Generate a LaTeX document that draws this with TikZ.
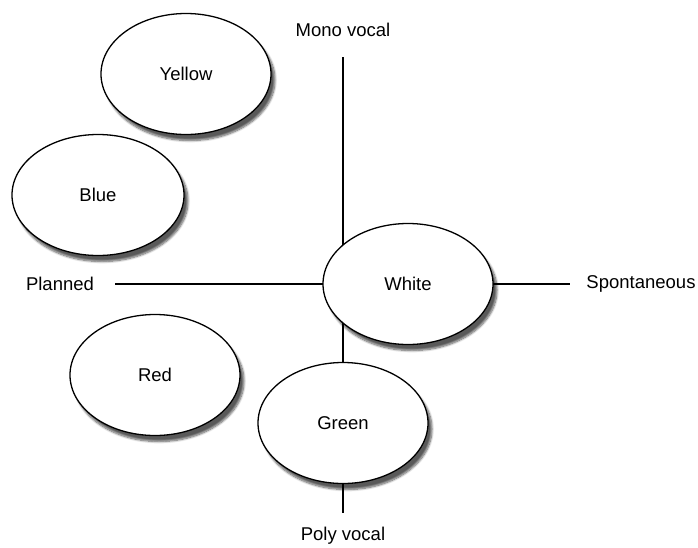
\documentclass[tikz,border=0pt]{standalone}
\usepackage{fontspec}
\setmainfont{Liberation Sans}
\usetikzlibrary{shapes.geometric}
\usetikzlibrary{shadows.blur}

\tikzset{
    bubble/.style={ellipse, draw, line width=1.3pt, fill=white, minimum width=170pt, minimum height=121pt,
        inner sep=0pt, blur shadow={shadow xshift=4pt, shadow yshift=-6pt, shadow blur steps=8, shadow opacity=65}},
    axis/.style={line width=1.1pt}
}

\begin{document}
\begin{tikzpicture}[x=1pt, y=-1pt, font=\fontsize{18.5}{20}\selectfont]
        \useasboundingbox (0,0) rectangle (698,547);
        % axis ends
        \coordinate (top) at (343,57);
        \coordinate (bot) at (343,513);
        \coordinate (left) at (115,284);
        \coordinate (right) at (570,284);
        \node (mono) at (343,30) {Mono vocal};
        \node (poly) at (343,536) {Poly vocal};
        \node (planned) at (60,284) {Planned};
        \node (spont) at (641,284) {Spontaneous};
        \draw[axis] (top) -- (bot);
        \draw[axis] (left) -- (right);

        % colours
        \node[bubble] (yellow) at (186,74) {Yellow};
        \node[bubble, minimum width=172pt] (blue) at (98,195) {Blue};
        \node[bubble] (white) at (408,284) {White};
        \node[bubble] (red) at (155,375) {Red};
        \node[bubble] (green) at (343,423) {Green};
    \end{tikzpicture}
\end{document}
